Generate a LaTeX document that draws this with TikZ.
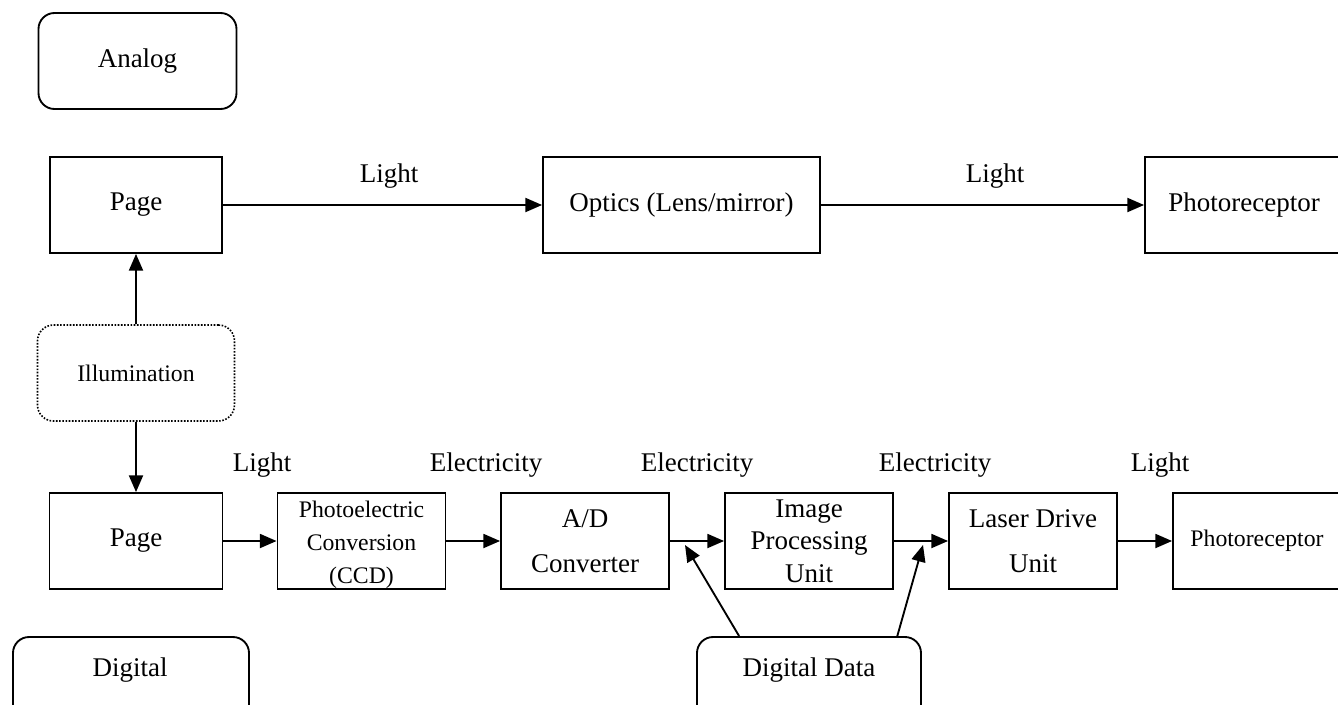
\documentclass[tikz,border=0pt]{standalone}
\usepackage{fontspec}
\setmainfont{Liberation Serif}
\usetikzlibrary{arrows.meta}

\newcommand{\bigtxt}{\fontsize{20.25}{24.3}\selectfont}
\newcommand{\smalltxt}{\fontsize{17.8}{24.5}\selectfont}

\begin{document}
\begin{tikzpicture}[x=0.75pt,y=0.75pt,yscale=-1,xscale=1,
  every node/.style={font=\bigtxt, inner sep=0.75pt},
  box/.style={draw, line width=1.4pt, minimum height=72pt, align=center},
  roundbox/.style={box, rounded corners=12pt},
  arr/.style={line width=1.4pt, -{Triangle[length=12.5pt,width=10.5pt]}}]
\useasboundingbox (0,0) rectangle (1338,704);
\clip (0,0) rectangle (1338,704);

% Analog path
\node[roundbox, minimum width=148.5pt] (analog) at (137.5,61) {Analog};
\node[box, minimum width=129pt] (pagetop) at (136,205) {Page};
\node[box, minimum width=207.75pt] (optics) at (681.5,205) {Optics (Lens/mirror)};
\node[box, minimum width=148.5pt] (recvtop) at (1244,205) {Photoreceptor};

% Light source
\node[roundbox, line width=1.2pt, dash pattern={on 1.2pt off 1.2pt}, minimum width=147.75pt, font=\smalltxt] (illum) at (136,373) {Illumination};

% Digital path
\node[box, minimum width=129.75pt] (pagebot) at (136,541) {Page};
\node[box, minimum width=126pt, font=\smalltxt] (photoel) at (361.5,541) {\rule{0pt}{18pt}Photoelectric\\Conversion\\(CCD)};
\node[box, minimum width=126pt] (adconv) at (585,541) {A/D\\[9.5pt]Converter};
\node[box, minimum width=126pt] (imgproc) at (809,541) {Image\\Processing\\Unit};
\node[box, minimum width=126pt] (laser) at (1033,541) {Laser Drive\\[9.5pt]Unit};
\node[box, minimum width=126pt, font=\smalltxt] (recvbot) at (1257,541) {Photoreceptor};

\node[roundbox, minimum width=177pt] (digital) at (131,685) {};
\node (digitaltxt) at (130,670) {Digital};
\node[roundbox, minimum width=168pt] (digdata) at (809,685) {};
\node (digdatatxt) at (809,670) {Digital Data};

%Straight Lines
\draw[arr] (pagetop) -- (optics);
\draw[arr] (optics) -- (recvtop);
\draw[arr] (illum) -- (pagetop);
\draw[arr] (illum) -- (pagebot);
\foreach \a/\b in {pagebot/photoel, photoel/adconv, adconv/imgproc, imgproc/laser, laser/recvbot}
  \draw[arr] (\a) -- (\b);
\coordinate (tipad) at (685,545);
\coordinate (tiplaser) at (923,545);
\draw[arr] (digdata.145.6) -- (tipad);
\draw[arr] (digdata.29.7) -- (tiplaser);

% Text Node
\node (lighta) at (389,176) {Light};
\node (lightb) at (995,176) {Light};
\node (lightc) at (262,465) {Light};
\node (electa) at (486,465) {Electricity};
\node (electb) at (697,465) {Electricity};
\node (electc) at (935,465) {Electricity};
\node (lightd) at (1160,465) {Light};

\end{tikzpicture}
\end{document}
